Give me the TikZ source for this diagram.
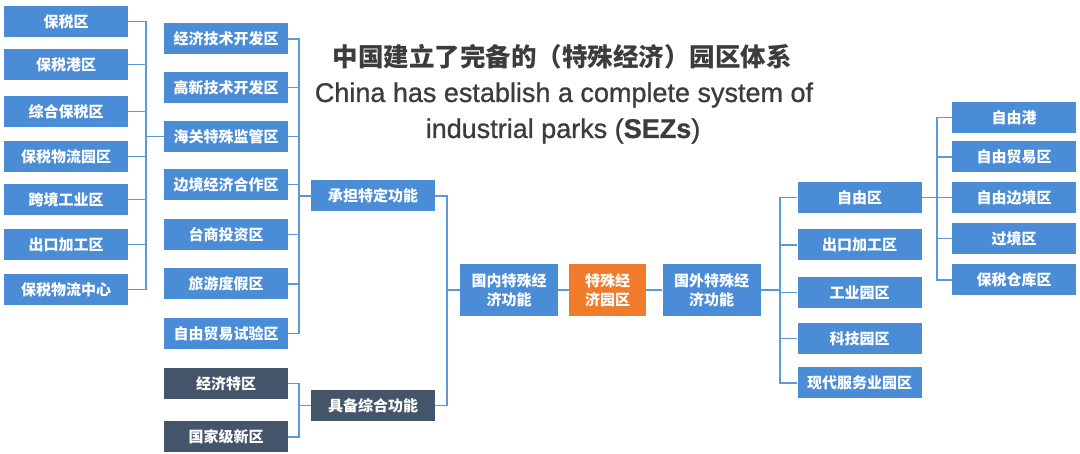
\documentclass[tikz,border=0pt]{standalone}
\usepackage{fontspec}
\setmainfont{Liberation Sans}
\newfontfamily\cjk{Noto Sans CJK SC}
\newfontfamily\engtitle[FakeBold=0.9]{Liberation Sans}
\usetikzlibrary{calc}
\definecolor{boxblue}{HTML}{4A8DD6}
\definecolor{darkbox}{HTML}{44546A}
\definecolor{orangebox}{HTML}{EF7B2B}
\definecolor{linecol}{HTML}{5B9BD5}
\definecolor{titlegray}{HTML}{3C3C3C}
\begin{document}
\begin{tikzpicture}[x=1pt,y=-1pt,
  box/.style={fill=boxblue, text=white, minimum width=124pt, minimum height=31pt, inner sep=0pt,
    font=\cjk\bfseries\fontsize{15}{19}\selectfont, align=center},
  dbox/.style={box, fill=darkbox},
  cbox/.style={box, minimum width=98pt, minimum height=52pt},
  obox/.style={cbox, fill=orangebox, minimum width=77pt},
  conn/.style={draw=linecol, line width=1.3pt},
  ttl/.style={text=titlegray, inner sep=0pt}
]
\useasboundingbox (0,0) rectangle (1080,454);
\fill[white] (0,0) rectangle (1080,454);

% title
\node[ttl, font=\cjk\bfseries\fontsize{25.5}{30}\selectfont] (t1) at (562,57) {中国建立了完备的（特殊经济）园区体系};
\node[ttl, font=\engtitle\fontsize{27}{32}\selectfont] (t2) at (564,95) {China has establish a complete system of};
\node[ttl, font=\engtitle\fontsize{27}{32}\selectfont] (t3) at (563,131) {industrial parks (\textbf{SEZs})};

% bus coordinates
\coordinate (lb) at (146,0);
\coordinate (mb) at (299,0);
\coordinate (cb) at (447,0);
\coordinate (rb) at (780,0);
\coordinate (fb) at (937,0);

% left column
\node[box] (l1) at (66,21.5) {保税区};
\node[box] (l2) at (66,64.5) {保税港区};
\node[box] (l3) at (66,111.5) {综合保税区};
\node[box] (l4) at (66,156.5) {保税物流园区};
\node[box] (l5) at (66,199.5) {跨境工业区};
\node[box] (l6) at (66,244.5) {出口加工区};
\node[box] (l7) at (66,289.5) {保税物流中心};

% second column
\node[box] (m1) at (226,39) {经济技术开发区};
\node[box] (m2) at (226,87.5) {高新技术开发区};
\node[box] (m3) at (226,136.5) {海关特殊监管区};
\node[box] (m4) at (226,184.5) {边境经济合作区};
\node[box] (m5) at (226,234.5) {台商投资区};
\node[box] (m6) at (226,284) {旅游度假区};
\node[box] (m7) at (226,333.5) {自由贸易试验区};
\node[dbox] (d1) at (226,383.5) {经济特区};
\node[dbox] (d2) at (226,437) {国家级新区};

% third column
\node[box] (f1) at (373,196) {承担特定功能};
\node[dbox] (f2) at (373,405.5) {具备综合功能};

% center
\node[cbox] (dom) at (509,290) {国内特殊经\\济功能};
\node[obox] (sez) at (607.5,290) {特殊经\\济园区};
\node[cbox] (for) at (711.5,290) {国外特殊经\\济功能};

% right column
\node[box] (r1) at (859.5,197.5) {自由区};
\node[box] (r2) at (859.5,245) {出口加工区};
\node[box] (r3) at (859.5,292.5) {工业园区};
\node[box] (r4) at (859.5,338.5) {科技园区};
\node[box] (r5) at (859.5,383) {现代服务业园区};

% far right column
\node[box] (q1) at (1014,117.5) {自由港};
\node[box] (q2) at (1014,157) {自由贸易区};
\node[box] (q3) at (1014,197.5) {自由边境区};
\node[box] (q4) at (1014,238.5) {过境区};
\node[box] (q5) at (1014,280) {保税仓库区};

% connectors left -> m3
\foreach \n in {l1,l2,l3,l4,l5,l6,l7}
  \draw[conn] (\n.east) -- (\n.east -| lb) |- (m3.west);
% second column -> f1
\foreach \n in {m1,m2,m3,m4,m5,m6,m7}
  \draw[conn] (\n.east) -- (\n.east -| mb) |- (f1.west);
% dark -> f2
\foreach \n in {d1,d2}
  \draw[conn] (\n.east) -- (\n.east -| mb) |- (f2.west);
% f1, f2 -> dom
\foreach \n in {f1,f2}
  \draw[conn] (\n.east) -- (\n.east -| cb) |- (dom.west);
% center chain
\draw[conn] (dom.east) -- (sez.west);
\draw[conn] (sez.east) -- (for.west);
% for -> right column
\foreach \n in {r1,r2,r3,r4,r5}
  \draw[conn] (for.east) -- (for.east -| rb) |- (\n.west);
% r1 -> far right
\foreach \n in {q1,q2,q3,q4,q5}
  \draw[conn] (r1.east) -- (r1.east -| fb) |- (\n.west);
\end{tikzpicture}
\end{document}
